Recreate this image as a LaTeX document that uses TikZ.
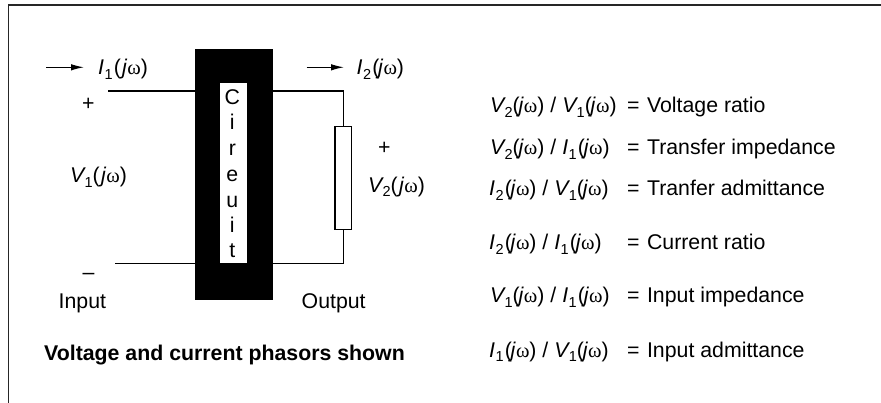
\documentclass[tikz,border=0pt]{standalone}
\usepackage{fontspec}
\setmainfont{Liberation Sans}
\newfontfamily\omfont{Liberation Serif}
\usetikzlibrary{arrows.meta}
\newcommand{\om}{{\omfont\fontsize{20.5}{25}\selectfont ω}}
\newcommand{\jw}{(\kern-1.2pt\textit{j}\kern0.1pt\om)}
\newcommand{\sjw}{(\kern1.2pt\textit{j}\kern0.1pt\om)}
\newcommand{\sv}[2]{\textit{#1}\kern-1.4pt\raisebox{-0.2em}{\fontsize{14.5}{15}\selectfont #2}}
\newcommand{\si}[1]{\textit{I}\kern0.4pt\raisebox{-0.2em}{\fontsize{14.5}{15}\selectfont #1}\kern1.2pt}
\newcommand{\eqs}{=\kern1.5pt\ }
\tikzset{
  x=1pt,y=-1pt,
  txt/.style={inner sep=0pt,anchor=base west,font=\fontsize{21.3}{25}\selectfont},
  wire/.style={draw=black,line width=1.1pt},
  flow/.style={draw=black,line width=1.2pt,-{Latex[length=13pt,width=6.5pt]}},
  letter/.style={inner sep=0pt,anchor=base,font=\fontsize{21.3}{25}\selectfont}
}
\begin{document}
\begin{tikzpicture}
\useasboundingbox (0,0) rectangle (881,403);
\draw[line width=1.5pt,draw=black!85] (8.5,403) -- (8.5,5) -- (881,5);
\fill[black] (195,49) rectangle (273,300);
\node[fill=white,inner sep=0pt,minimum width=27pt,minimum height=180pt,anchor=north west] (win) at (220,83) {};
\node[letter] (c1) at (232.3,105) {C};
\node[letter] (c2) at (232.3,130) {i};
\node[letter] (c3) at (232.3,156) {r};
\node[letter] (c4) at (232.3,182) {e};
\node[letter] (c5) at (232.3,208) {u};
\node[letter] (c6) at (232.3,233) {i};
\node[letter] (c7) at (232.3,258) {t};
\coordinate (t1) at (108,91);
\coordinate (tb1) at (195,91);
\coordinate (b1) at (115,263.7);
\coordinate (bb1) at (195,263.7);
\coordinate (t2) at (273,91);
\coordinate (b2) at (273,263.7);
\coordinate (c) at (343.2,91);
\coordinate (d) at (343.2,263.7);
\node[draw=black,line width=1.1pt,fill=white,minimum width=16.5pt,minimum height=102.5pt,inner sep=0pt] (res) at (343.2,178) {};
\draw[wire] (t1) -- (tb1);
\draw[wire] (b1) -- (bb1);
\draw[wire] (t2) -- (c) -- (res.north);
\draw[wire] (res.south) -- (d) -- (b2);
\coordinate (a1) at (46,67.3); \coordinate (a1e) at (84,67.3);
\coordinate (a2) at (306.5,67.3); \coordinate (a2e) at (344,67.3);
\draw[flow] (a1) -- (a1e);
\draw[flow] (a2) -- (a2e);
\node[txt] (i1) at (98,75) {\si{1}\sjw};
\node[txt] (i2) at (356.5,75) {\si{2}\jw};
\node[txt] (p1) at (82,111) {+};
\node[txt] (v1) at (70,183) {\sv{V}{1}\sjw};
\node[txt] (p2) at (378,154.5) {+};
\node[txt] (v2) at (368,192.5) {\sv{V}{2}\sjw};
\node[txt] (m1) at (82.5,279.5) {–};
\node[txt] (inp) at (58.5,309) {Input};
\node[txt] (out) at (301.5,309) {Output};
\node[txt,font=\fontsize{21.3}{25}\selectfont\bfseries] (cap) at (44,360) {Voltage and current phasors shown};
\node[txt] (r1) at (490,113) {\sv{V}{2}\jw{} / \sv{V}{1}\jw};
\node[txt] (e1) at (627,113) {\eqs Voltage ratio};
\node[txt] (r2) at (490,155) {\sv{V}{2}\jw{} / \si{1}\jw};
\node[txt] (e2) at (627,155) {\eqs Transfer impedance};
\node[txt] (r3) at (489,196) {\si{2}\jw{} / \sv{V}{1}\jw};
\node[txt] (e3) at (627,196) {\eqs Tranfer admittance};
\node[txt] (r4) at (489,250) {\si{2}\jw{} / \si{1}\jw};
\node[txt] (e4) at (627,250) {\eqs Current ratio};
\node[txt] (r5) at (490,303) {\sv{V}{1}\jw{} / \si{1}\jw};
\node[txt] (e5) at (627,303) {\eqs Input impedance};
\node[txt] (r6) at (489,357) {\si{1}\jw{} / \sv{V}{1}\jw};
\node[txt] (e6) at (627,357) {\eqs Input admittance};
\end{tikzpicture}
\end{document}
